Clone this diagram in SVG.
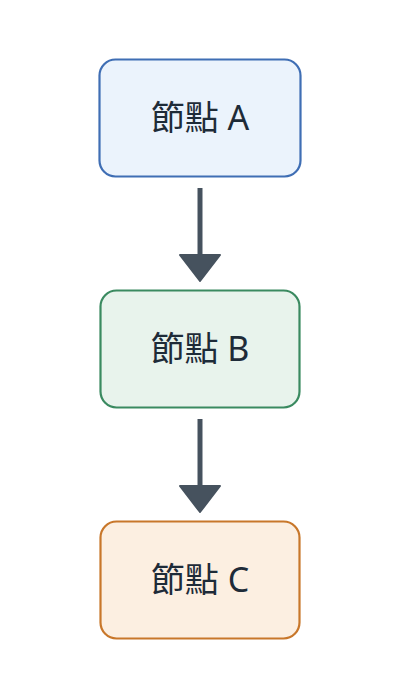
<svg xmlns="http://www.w3.org/2000/svg" width="400" height="698" viewBox="0 0 400 698">
<defs>
<style>
.box{stroke-width:2.2}
.lbl{font-family:"Noto Sans","Noto Sans CJK TC",sans-serif;font-size:34px;fill:#1e2b38;text-anchor:middle;dominant-baseline:central}
.edge{stroke:#46525e;stroke-width:5;fill:none}
</style>
<marker id="ah" viewBox="-1 -1 28 42" refX="0" refY="20" markerWidth="28" markerHeight="42" markerUnits="userSpaceOnUse" orient="auto">
<path d="M0,0 L26,20 L0,40 Z" fill="#46525e" stroke="#46525e" stroke-width="2" stroke-linejoin="round"/>
</marker>
</defs>
<rect width="400" height="698" fill="#ffffff"/>
<g id="edges">
<path class="edge" d="M200,188 V255" marker-end="url(#ah)"/>
<path class="edge" d="M200,419 V486" marker-end="url(#ah)"/>
</g>
<g id="nodeA">
<rect class="box" x="99.5" y="59.5" width="201" height="117" rx="16" fill="#ebf3fc" stroke="#3f6eb4"/>
<text class="lbl" x="200" y="117">節點 A</text>
</g>
<g id="nodeB">
<rect class="box" x="100.5" y="290.5" width="199" height="117" rx="16" fill="#e8f3ec" stroke="#3a8a60"/>
<text class="lbl" x="200" y="348">節點 B</text>
</g>
<g id="nodeC">
<rect class="box" x="100.5" y="521.5" width="199" height="117" rx="16" fill="#fcefe1" stroke="#c8772a"/>
<text class="lbl" x="200" y="579">節點 C</text>
</g>
</svg>
